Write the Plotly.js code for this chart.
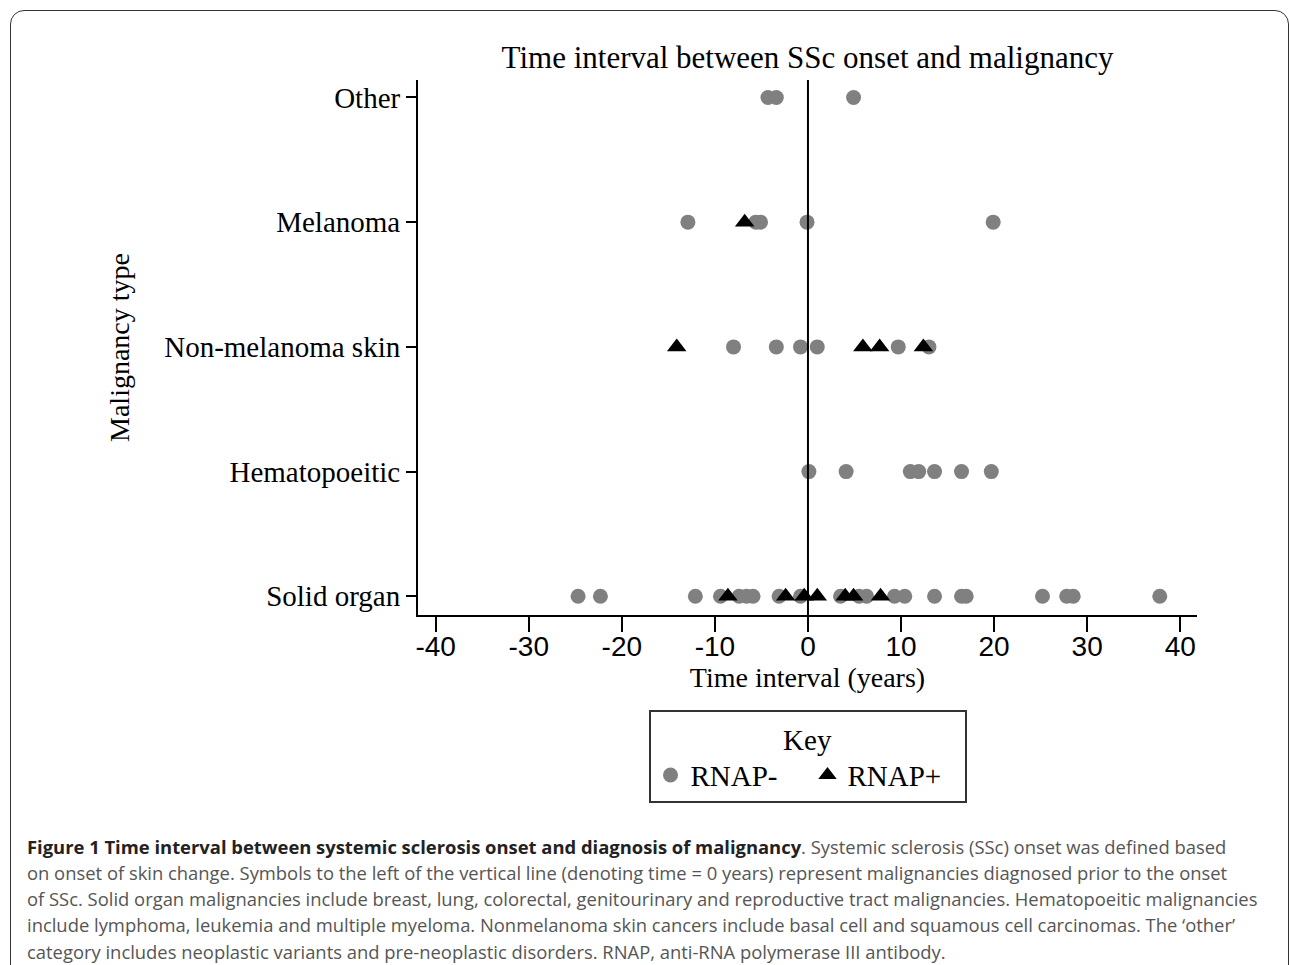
<!DOCTYPE html>
<html>
<head>
<meta charset="utf-8">
<script src="https://cdn.plot.ly/plotly-3.0.1.min.js"></script>
<style>
  html, body { margin: 0; padding: 0; background: #fff; width: 1290px; height: 965px; overflow: hidden; }
  #chart { position: absolute; left: 0; top: 0; width: 1290px; height: 965px; }
  #frame { position: absolute; left: 10px; top: 10px; width: 1277px; height: 1010px;
           border: 1.5px solid #333; border-radius: 14px; pointer-events: none; }
</style>
</head>
<body>
<div id="chart"></div>
<div id="frame"></div>
<script>
// ---- data (time interval in years) ----
const categories = ['Solid organ', 'Hematopoeitic', 'Non-melanoma skin', 'Melanoma', 'Other'];

const solidNeg = [-24.7, -22.3, -12.1, -9.4, -7.4, -6.6, -5.9, -3.1, -0.8, 3.5, 5.5, 6.3, 9.3, 10.4, 13.6, 16.5, 17.0, 25.2, 27.8, 28.5, 37.8];
const solidPos = [-8.6, -2.4, -0.4, 1.0, 4.0, 4.9, 7.8];
const hemaNeg  = [0.1, 4.1, 11.0, 11.9, 13.6, 16.5, 19.7];
const hemaPos  = [];
const skinNeg  = [-8.0, -3.4, -0.8, 1.0, 9.7, 13.0];
const skinPos  = [-14.1, 5.9, 7.7, 12.4];
const melNeg   = [-12.9, -5.6, -5.1, -0.1, 19.9];
const melPos   = [-6.8];
const otherNeg = [-4.3, -3.4, 4.9];
const otherPos = [];

const xTickVals = [-40, -30, -20, -10, 0, 10, 20, 30, 40];
const seriesNames = ['RNAP-', 'RNAP+'];

const captionLines = [
  '<b style="color:#222">Figure 1 Time interval between systemic sclerosis onset and diagnosis of malignancy</b>. Systemic sclerosis (SSc) onset was defined based',
  'on onset of skin change. Symbols to the left of the vertical line (denoting time = 0 years) represent malignancies diagnosed prior to the onset',
  'of SSc. Solid organ malignancies include breast, lung, colorectal, genitourinary and reproductive tract malignancies. Hematopoeitic malignancies',
  'include lymphoma, leukemia and multiple myeloma. Nonmelanoma skin cancers include basal cell and squamous cell carcinomas. The \u2018other\u2019',
  'category includes neoplastic variants and pre-neoplastic disorders. RNAP, anti-RNA polymerase III antibody.'
];

// ---- build traces ----
const negGroups = [solidNeg, hemaNeg, skinNeg, melNeg, otherNeg];
const posGroups = [solidPos, hemaPos, skinPos, melPos, otherPos];
function flatten(groups) {
  const xs = [], ys = [];
  groups.forEach((g, i) => g.forEach(v => { xs.push(v); ys.push(categories[i]); }));
  return {xs, ys};
}
const neg = flatten(negGroups);
const pos = flatten(posGroups);

const serif = 'Liberation Serif, Times New Roman, serif';

const traces = [
  { type: 'scatter', mode: 'markers', name: seriesNames[0], x: neg.xs, y: neg.ys,
    marker: { symbol: 'circle', size: 15, color: '#808080' }, hoverinfo: 'x+y' },
  { type: 'scatter', mode: 'markers', name: seriesNames[1], x: pos.xs, y: pos.ys,
    marker: { symbol: 'triangle-up', size: 17, color: '#000' }, hoverinfo: 'x+y' }
];

// layout geometry (pixels)
const W = 1290, H = 965, L = 418, R = 1197, T = 80, B = 615;
const px = v => (v - L) / (R - L);
const py = v => (B - v) / (B - T);

const annotations = captionLines.map((line, i) => ({
  xref: 'paper', yref: 'paper', x: px(25), y: py(846 + i * 26.3),
  xanchor: 'left', yanchor: 'middle', align: 'left', showarrow: false,
  text: line, font: { family: 'Open Sans, sans-serif', size: 18.4, color: '#555' }
}));

const layout = {
  width: W, height: H,
  margin: { l: L, r: W - R, t: T, b: H - B, pad: 0 },
  paper_bgcolor: '#fff', plot_bgcolor: '#fff',
  title: { text: 'Time interval between SSc onset and malignancy',
           font: { family: serif, size: 31, color: '#000' },
           x: 0.5, xref: 'paper', xanchor: 'center', y: 1 - 57 / H, yanchor: 'middle' },
  xaxis: {
    range: [-41.9, 41.8], tickvals: xTickVals, ticktext: xTickVals.map(String),
    showgrid: false, zeroline: false, showline: true, linecolor: '#000', linewidth: 2,
    ticks: 'outside', ticklen: 15, tickwidth: 2, tickcolor: '#000',
    ticklabelstandoff: -10,
    tickfont: { family: 'Liberation Sans, Arial, sans-serif', size: 28, color: '#000' },
    title: { text: 'Time interval (years)', font: { family: serif, size: 28, color: '#000' }, standoff: 2 },
    fixedrange: true
  },
  yaxis: {
    type: 'category', categoryorder: 'array', categoryarray: categories,
    range: [-0.15, 4.14],
    showgrid: false, zeroline: false, showline: true, linecolor: '#000', linewidth: 2,
    ticks: 'outside', ticklen: 10, tickwidth: 2, tickcolor: '#000',
    ticklabelstandoff: 0,
    tickfont: { family: serif, size: 29, color: '#000' },
    title: { text: 'Malignancy type', font: { family: serif, size: 28, color: '#000' }, standoff: 26 },
    fixedrange: true
  },
  shapes: [
    { type: 'line', xref: 'x', yref: 'paper', x0: 0, x1: 0, y0: 0, y1: 1,
      line: { color: '#000', width: 2 }, layer: 'above' }
  ],
  showlegend: true,
  legend: {
    orientation: 'h', x: 0.5, xanchor: 'center', y: py(710), yanchor: 'top',
    bordercolor: '#333', borderwidth: 2, bgcolor: '#fff',
    font: { family: serif, size: 29, color: '#000' },
    title: { text: 'Key', side: 'top center', font: { family: serif, size: 29, color: '#000' } },
    entrywidth: 112, entrywidthmode: 'pixels',
    itemclick: false, itemdoubleclick: false, tracegroupgap: 0
  },
  annotations: annotations
};

Plotly.newPlot('chart', traces, layout, { displayModeBar: false, staticPlot: true });
</script>
</body>
</html>
